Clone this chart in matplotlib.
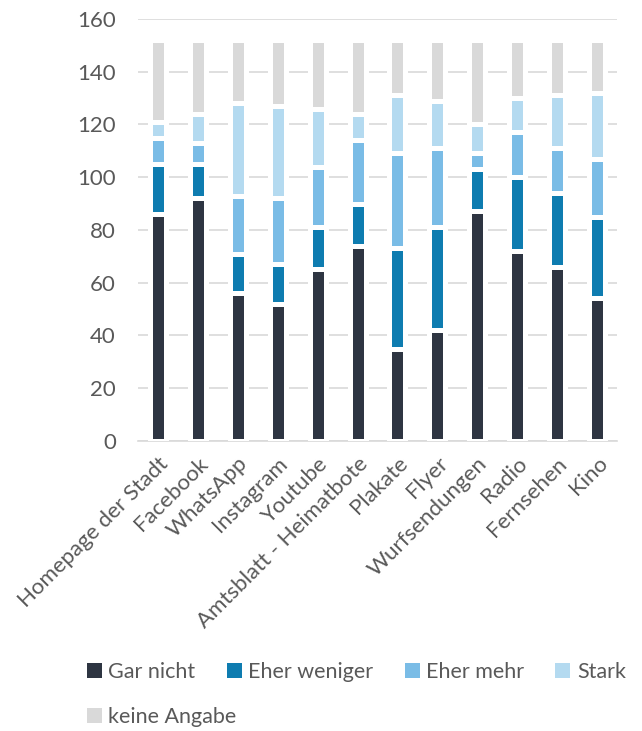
import numpy as np
import matplotlib.pyplot as plt

plt.rcParams['font.family'] = ['Lato', 'DejaVu Sans']

categories = ['Homepage der Stadt', 'Facebook', 'WhatsApp', 'Instagram', 'Youtube',
              'Amtsblatt - Heimatbote', 'Plakate', 'Flyer', 'Wurfsendungen', 'Radio',
              'Fernsehen', 'Kino']

gar_nicht     = [86, 92, 56, 52, 65, 74, 35, 42, 87, 72, 66, 54]
eher_weniger  = [19, 13, 15, 15, 16, 16, 38, 39, 16, 28, 28, 31]
eher_mehr     = [10,  8, 22, 25, 23, 24, 36, 30,  6, 17, 17, 22]
stark         = [ 6, 11, 35, 35, 22, 10, 22, 18, 11, 13, 20, 25]
keine_angabe  = [31, 28, 24, 25, 26, 28, 21, 23, 32, 22, 21, 20]

series = [('Gar nicht', gar_nicht, '#2e3542'),
          ('Eher weniger', eher_weniger, '#0e7cb0'),
          ('Eher mehr', eher_mehr, '#7abce6'),
          ('Stark', stark, '#b4daf0'),
          ('keine Angabe', keine_angabe, '#d9d9d9')]

txt_color = '#595959'
fs = 16

fig = plt.figure(figsize=(6.42, 7.31), dpi=100)
ax = fig.add_axes([0.215, 0.397, 0.746, 0.577])

x = np.arange(len(categories))
bottom = np.zeros(len(categories))
handles = []
for name, vals, col in series:
    b = ax.bar(x, vals, 0.4, bottom=bottom, color=col, edgecolor='white',
               linewidth=3.6, label=name, zorder=3)
    handles.append(b)
    bottom += np.array(vals)

ax.set_ylim(0, 160)
ax.set_xlim(-0.5, len(categories) - 0.5)
ax.set_yticks(np.arange(0, 161, 20))
ax.yaxis.grid(True, color='#d9d9d9', linewidth=1.2, zorder=0)
ax.set_axisbelow(True)
for s in ['top', 'right', 'left']:
    ax.spines[s].set_visible(False)
ax.spines['bottom'].set_color('#d9d9d9')
ax.spines['bottom'].set_linewidth(1.2)
ax.tick_params(axis='y', length=0, pad=16, labelsize=fs, labelcolor=txt_color)
ax.tick_params(axis='x', length=0, pad=9, labelsize=fs, labelcolor=txt_color)
ax.set_xticks(x)
ax.set_xticklabels(categories, rotation=45, ha='right', va='top', rotation_mode='anchor')

# legend: four entries in the first row, one in the second
leg1 = fig.legend(handles[:4], [s[0] for s in series[:4]], loc='center left',
                  bbox_to_anchor=(0.105, 0.081), ncol=4, frameon=False, fontsize=15.5,
                  handlelength=0.7, handleheight=0.7, handletextpad=0.3, columnspacing=1.45,
                  labelcolor=txt_color)
leg2 = fig.legend(handles[4:], [series[4][0]], loc='center left',
                  bbox_to_anchor=(0.105, 0.019), frameon=False, fontsize=15.5,
                  handlelength=0.7, handleheight=0.7, handletextpad=0.3,
                  labelcolor=txt_color)
for lg in (leg1, leg2):
    for h in lg.legend_handles:
        h.set_linewidth(0)

plt.savefig('out.png', dpi=100)
